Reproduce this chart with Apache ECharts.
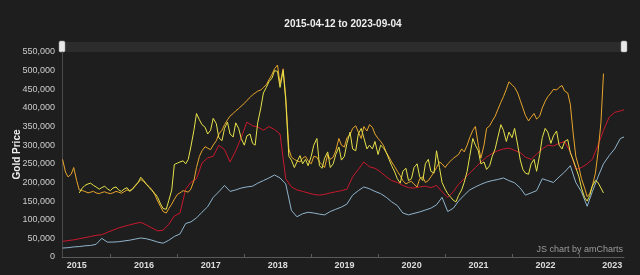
<!DOCTYPE html>
<html><head><meta charset="utf-8">
<script src="https://cdn.jsdelivr.net/npm/echarts@6/dist/echarts.min.js"></script>
<style>html,body{margin:0;padding:0;background:#1e1e1e;}#c{width:640px;height:275px;}</style>
</head><body><div id="c"></div><script>
const dates = [
 '2015-04-15','2015-05-15','2015-06-15','2015-07-15','2015-08-15','2015-09-15','2015-10-15','2015-11-15','2015-12-15',
 '2016-01-15','2016-02-15','2016-03-15','2016-04-15','2016-05-15','2016-06-15','2016-07-15','2016-08-15','2016-09-15','2016-10-15','2016-11-15','2016-12-15',
 '2017-01-15','2017-02-15','2017-03-15','2017-04-15','2017-05-15','2017-06-15','2017-07-15','2017-08-15','2017-09-15','2017-10-15','2017-11-15','2017-12-15',
 '2018-01-15','2018-02-15','2018-03-15','2018-04-15','2018-05-15','2018-06-15','2018-07-15','2018-08-15','2018-09-15','2018-10-15','2018-11-15','2018-12-15',
 '2019-01-15','2019-02-15','2019-03-15','2019-04-15','2019-05-15','2019-06-15','2019-07-15','2019-08-15','2019-09-15','2019-10-15','2019-11-15','2019-12-15',
 '2020-01-15','2020-02-15','2020-03-15','2020-04-15','2020-05-15','2020-06-15','2020-07-15','2020-08-15','2020-09-15','2020-10-15','2020-11-15','2020-12-15',
 '2021-01-15','2021-02-15','2021-03-15','2021-04-15','2021-05-15','2021-06-15','2021-07-15','2021-08-15','2021-09-15','2021-10-15','2021-11-15','2021-12-15',
 '2022-01-15','2022-02-15','2022-03-15','2022-04-15','2022-05-15','2022-06-15','2022-07-15','2022-08-15','2022-09-15','2022-10-15','2022-11-15','2022-12-15',
 '2023-01-15','2023-02-15','2023-03-15','2023-04-15','2023-05-15','2023-06-15','2023-07-15','2023-08-15','2023-09-04'
];
// half-monthly dates (1st and mid-month) used by the two noisy gold series
const halfDates = dates.flatMap(d => [d.slice(0, 8) + '01', d]);

const blueValues = [
 24000,25000,27000,28000,30000,31000,34000,50000,40000,
 40000,41000,43000,45000,48000,51000,49000,45000,40000,37000,45000,55000,
 62000,90000,94000,105000,120000,135000,160000,175000,192000,176000,180000,185000,
 188000,190000,198000,205000,212000,220000,212000,196000,125000,108000,116000,120000,
 118000,115000,113000,122000,128000,134000,142000,166000,178000,188000,183000,176000,
 170000,160000,148000,138000,118000,113000,117000,121000,126000,131000,140000,160000,
 122000,131000,150000,166000,180000,188000,195000,201000,205000,208000,212000,205000,
 199000,185000,166000,172000,178000,210000,205000,200000,215000,228000,245000,200000,
 175000,136000,175000,215000,250000,272000,290000,318000,322000
];
const redValues = [
 42000,44000,46000,49000,52000,55000,58000,60000,66000,
 72000,78000,82000,86000,90000,93000,86000,78000,70000,72000,88000,110000,
 118000,182000,200000,210000,252000,266000,270000,300000,288000,255000,285000,320000,
 362000,352000,349000,340000,350000,342000,330000,210000,188000,180000,176000,172000,
 168000,166000,168000,172000,175000,178000,182000,215000,235000,255000,242000,238000,
 228000,215000,205000,200000,192000,186000,185000,188000,190000,186000,192000,175000,
 160000,175000,195000,210000,225000,240000,255000,268000,278000,285000,290000,292000,
 286000,280000,268000,262000,276000,290000,300000,298000,305000,310000,282000,235000,
 240000,250000,262000,300000,340000,375000,388000,392000,395000
];
const orangeValues = [
 null,262000, 228000,215000, 222000,240000, 205000,180000, 178000,176000, 172000,174000, 176000,172000, 170000,173000, 175000,172000,
 170000,172000, 176000,174000, 171000,175000, 180000,178000, 183000,190000, 200000,208000, 202000,196000, 188000,180000, 166000,150000, 135000,122000, 118000,130000, 142000,155000,
 168000,172000, 178000,176000, 174000,182000, 205000,240000, 270000,285000, 296000,292000, 288000,300000, 312000,330000, 340000,355000, 368000,378000, 385000,392000, 398000,405000,
 412000,420000, 428000,435000, 440000,445000, 448000,455000, 462000,475000, 490000,505000, 515000,465000, 505000,430000, 290000,268000, 262000,258000, 255000,265000, 270000,258000,
 250000,270000, 268000,255000, 248000,240000, 275000,262000, 268000,285000, 318000,300000, 295000,320000, 328000,345000, 352000,335000, 318000,350000, 338000,355000, 348000,330000,
 318000,310000, 298000,280000, 268000,255000, 242000,230000, 218000,205000, 196000,200000, 203000,195000, 188000,210000, 215000,200000, 205000,215000, 228000,240000, 255000,250000,
 240000,250000, 258000,265000, 270000,275000, 290000,282000, 300000,320000, 340000,350000, 300000,265000, 300000,345000, 352000,365000, 378000,395000, 415000,430000, 450000,470000,
 462000,455000, 440000,420000, 400000,380000, 365000,375000, 385000,370000, 378000,400000, 418000,430000, 440000,450000, 448000,455000, 460000,445000, 440000,410000, 330000,270000,
 240000,210000, 185000,162000, 170000,190000, 225000,280000, 360000,492000, null,null, null,null, null,null, null,null
];
const yellowValues = [
 null,null, null,null, null,null, null,172000, 185000,192000, 196000,198000, 192000,188000, 182000,186000, 190000,183000,
 178000,185000, 188000,180000, 176000,182000, 186000,176000, 182000,192000, 200000,214000, 205000,195000, 186000,178000, 170000,160000, 142000,130000, 128000,152000, 180000,248000,
 252000,255000, 258000,250000, 262000,295000, 340000,385000, 368000,355000, 348000,330000, 340000,372000, 358000,320000, 312000,345000, 362000,330000, 322000,360000, 345000,318000,
 300000,325000, 330000,305000, 300000,360000, 400000,440000, 455000,470000, 480000,500000, 498000,455000, 500000,420000, 270000,260000, 240000,255000, 272000,250000, 262000,245000,
 270000,300000, 318000,245000, 238000,265000, 282000,240000, 250000,275000, 295000,260000, 270000,305000, 335000,290000, 285000,330000, 345000,320000, 290000,300000, 290000,310000,
 275000,300000, 292000,280000, 262000,245000, 228000,210000, 198000,230000, 238000,205000, 210000,240000, 250000,215000, 205000,250000, 262000,230000, 225000,285000, 240000,200000,
 182000,170000, 160000,152000, 148000,165000, 180000,200000, 230000,270000, 318000,300000, 285000,250000, 255000,235000, 245000,270000, 290000,320000, 355000,340000, 310000,335000,
 320000,345000, 300000,260000, 235000,225000, 222000,250000, 262000,230000, 275000,320000, 345000,335000, 305000,325000, 338000,300000, 290000,310000, 315000,280000, 260000,240000,
 215000,185000, 160000,150000, 165000,190000, 205000,200000, 185000,172000, null,null, null,null, null,null, null,null
];
const yearLabels = ['2015','2016','2017','2018','2019','2020','2021','2022','2023'];
const titleText = '2015-04-12 to 2023-09-04';
const rangeStart = '2015-04-12';
const rangeEnd = '2023-09-04';

const ts = d => new Date(d + 'T00:00:00Z').getTime();
const pairs = (ds, vals) => ds.map((d, i) => [ts(d), vals[i] === null ? '-' : vals[i]]);
const labelPos = yearLabels.map(y => ts(y + '-07-02'));
const tickPos = yearLabels.slice(1).map(y => ts(y + '-01-01'));

const chart = echarts.init(document.getElementById('c'));
const lineSeries = (name, ds, vals, color, z) => ({
  name, type: 'line', data: pairs(ds, vals), showSymbol: false, symbol: 'none',
  lineStyle: { width: 1, color }, itemStyle: { color }, z, animation: false
});
chart.setOption({
  backgroundColor: '#1e1e1e',
  animation: false,
  grid: { left: 62, right: 16, top: 52, bottom: 18, containLabel: false, outerBoundsMode: 'none' },
  xAxis: {
    type: 'value', min: ts(rangeStart), max: ts(rangeEnd),
    axisLine: { show: true, onZero: false, lineStyle: { color: '#5a5a5a' } },
    axisTick: { show: true, inside: true, length: 3, lineStyle: { color: '#5a5a5a' }, customValues: tickPos },
    axisLabel: { color: '#dddddd', fontSize: 9, fontWeight: 'bold', margin: 4, customValues: labelPos,
      formatter: v => String(new Date(v).getUTCFullYear()) },
    splitLine: { show: false }
  },
  yAxis: {
    type: 'value', min: 0, max: 550000, interval: 50000,
    name: 'Gold Price', nameLocation: 'middle', nameGap: 40, nameRotate: 90, nameMoveOverlap: false,
    nameTextStyle: { color: '#eeeeee', fontSize: 10, fontWeight: 'bold' },
    axisLine: { show: true, lineStyle: { color: '#4a4a4a' } },
    axisTick: { show: false },
    axisLabel: { color: '#cccccc', fontSize: 9, margin: 7, formatter: v => v.toLocaleString('en-US') },
    splitLine: { show: false }
  },
  graphic: [
    { type: 'text', x: 343, y: 24, style: { text: titleText, fill: '#eeeeee', font: 'bold 10px sans-serif', align: 'center', verticalAlign: 'middle' } },
    { type: 'rect', shape: { x: 62, y: 42, width: 562, height: 10 }, style: { fill: '#2c2c2c' } },
    { type: 'rect', shape: { x: 59, y: 41, width: 6, height: 11, r: 1.5 }, style: { fill: '#e8e8e8', stroke: '#999', lineWidth: 0.5 } },
    { type: 'rect', shape: { x: 621, y: 41, width: 6, height: 11, r: 1.5 }, style: { fill: '#e8e8e8', stroke: '#999', lineWidth: 0.5 } },
    { type: 'text', x: 623, y: 250, style: { text: 'JS chart by amCharts', fill: '#9a9a9a', font: '9px sans-serif', align: 'right', verticalAlign: 'middle' } }
  ],
  series: [
    lineSeries('Blue', dates, blueValues, '#8fb4cc', 2),
    lineSeries('Red', dates, redValues, '#c8182c', 3),
    lineSeries('Orange', halfDates, orangeValues, '#e8a52c', 4),
    lineSeries('Yellow', halfDates, yellowValues, '#e6e24a', 5)
  ]
});
</script></body></html>
